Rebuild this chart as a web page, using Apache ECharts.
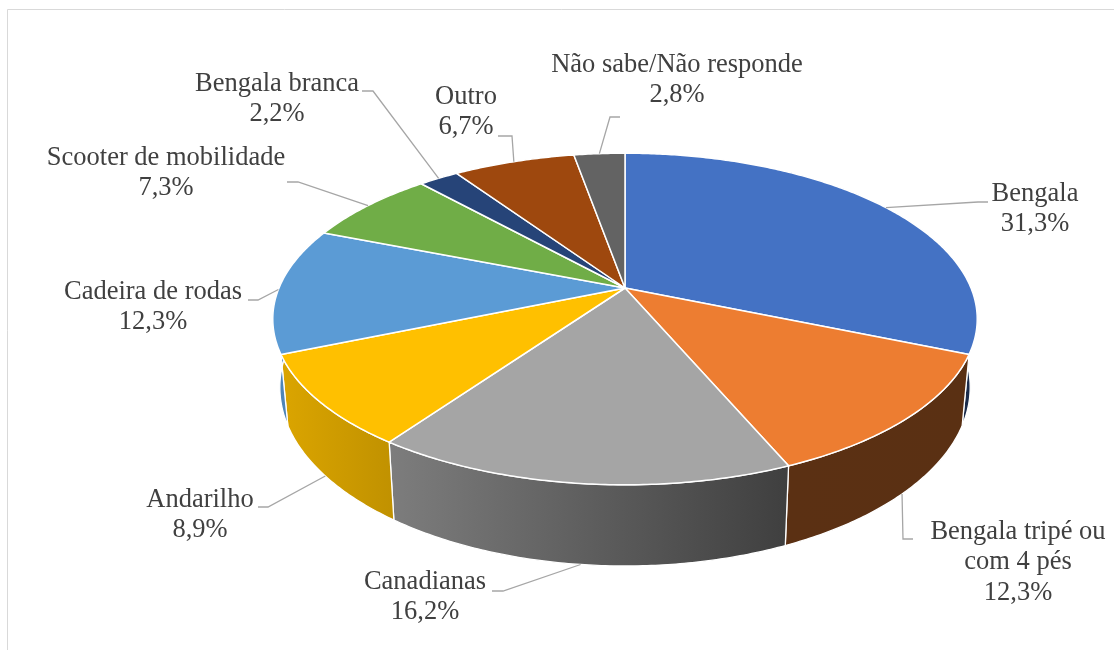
<!DOCTYPE html>
<html>
<head>
<meta charset="utf-8">
<script src="https://cdn.jsdelivr.net/npm/echarts@6/dist/echarts.min.js"></script>
<style>
html, body { margin: 0; padding: 0; background: #fff; }
#chart { width: 1114px; height: 650px; }
</style>
</head>
<body>
<div id="chart"></div>
<script>
// dados do gráfico
var categorias = ['Bengala', 'Bengala tripé ou\ncom 4 pés', 'Canadianas', 'Andarilho', 'Cadeira de rodas',
	'Scooter de mobilidade', 'Bengala branca', 'Outro', 'Não sabe/Não responde'];
var valores = [31.3, 12.3, 16.2, 8.9, 12.3, 7.3, 2.2, 6.7, 2.8];
var cores = ['#4472C4', '#ED7D31', '#A5A5A5', '#FFC000', '#5B9BD5', '#70AD47', '#264478', '#9E480E', '#636363'];

// layout dos rótulos: [x centro texto, y 1a linha, x/y início da linha guia, x/y cotovelo]
var rotulos = [
	[1035, 194, 988, 202, 978, 202],
	[1018, 532, 913, 539, 903, 539],
	[425, 582, 492, 591, 503, 591],
	[200, 500, 258, 507, 268, 507],
	[153, 292, 248, 300, 258, 300],
	[166, 158, 287, 182, 298, 182],
	[277, 84, 362, 91, 373, 91],
	[466, 97, 498, 136, 512, 136],
	[677, 65, 620, 117, 610, 117]
];

// geometria da pizza 3D (perspectiva simples)
var CX = 625, CY = 288, RX = 346, RY = 160, K = 0.187, PROF = 66;
var FONTE = '26.5px "Liberation Serif", "Times New Roman", serif';
var ALTURA_LINHA = 30.5;

var total = valores.reduce(function (a, b) { return a + b; }, 0);
var acumulado = [];
(function () {
	var s = 0;
	for (var i = 0; i < valores.length; i++) { acumulado.push(s); s += valores[i]; }
})();

function proj(t, baixo) {
	var u = Math.sin(t), v = Math.cos(t);
	var den = 1 + K * v;
	var x = CX + RX * u / den;
	var y = CY - RY * v / den;
	if (baixo) {
		x = CX + (x - CX) * 0.98;
		y += PROF / den;
	}
	return [x, y];
}

function angulos(i, valor) {
	var a0 = acumulado[i] / total * Math.PI * 2;
	return [a0, a0 + valor / total * Math.PI * 2];
}

function luz(x) {
	return Math.min(0.88, Math.max(0.38, 0.86 - (x - 280) / 510 * 0.48));
}

function sombra(cor, f) {
	var r = parseInt(cor.substr(1, 2), 16), g = parseInt(cor.substr(3, 2), 16), b = parseInt(cor.substr(5, 2), 16);
	return 'rgb(' + Math.round(r * f) + ',' + Math.round(g * f) + ',' + Math.round(b * f) + ')';
}

function arco(a0, a1, baixo) {
	var pts = [];
	var n = Math.max(2, Math.ceil((a1 - a0) / 0.01));
	for (var k = 0; k <= n; k++) pts.push(proj(a0 + (a1 - a0) * k / n, baixo));
	return pts;
}

// lateral (parede) de cada fatia
function desenhaParede(params, api) {
	var i = params.dataIndex;
	var a = angulos(i, api.value(0));
	var pts = arco(a[0], a[1], false).concat(arco(a[0], a[1], true).reverse());
	var xmin = Infinity, xmax = -Infinity;
	pts.forEach(function (p) { xmin = Math.min(xmin, p[0]); xmax = Math.max(xmax, p[0]); });
	var grad = new echarts.graphic.LinearGradient(xmin, 0, xmax + 1, 0, [
		{ offset: 0, color: sombra(cores[i], luz(xmin)) },
		{ offset: 1, color: sombra(cores[i], luz(xmax)) }
	], true);
	return {
		type: 'polygon',
		shape: { points: pts },
		style: { fill: grad, stroke: '#ffffff', lineWidth: 1.3, lineJoin: 'round' }
	};
}

// face superior de cada fatia
function desenhaTopo(params, api) {
	var i = params.dataIndex;
	var a = angulos(i, api.value(0));
	var pts = [[CX, CY]].concat(arco(a[0], a[1], false));
	return {
		type: 'polygon',
		shape: { points: pts },
		style: { fill: cores[i], stroke: '#ffffff', lineWidth: 1.5, lineJoin: 'round' }
	};
}

// rótulos com linhas guia
function desenhaRotulo(params, api) {
	var i = params.dataIndex;
	var valor = api.value(0);
	var a = angulos(i, valor);
	var m = (a[0] + a[1]) / 2;
	var ancora = proj(m, Math.cos(m) < -0.3);
	var r = rotulos[i];
	var texto = categorias[i] + '\n' + valor.toFixed(1).replace('.', ',') + '%';
	return {
		type: 'group',
		children: [{
			type: 'polyline',
			shape: { points: [[r[2], r[3]], [r[4], r[5]], ancora] },
			style: { stroke: '#a6a6a6', lineWidth: 1.3, fill: null }
		}, {
			type: 'text',
			style: {
				text: texto,
				x: r[0],
				y: r[1] - ALTURA_LINHA / 2,
				fill: '#404040',
				font: FONTE,
				lineHeight: ALTURA_LINHA,
				align: 'center',
				verticalAlign: 'top'
			}
		}]
	};
}

var chart = echarts.init(document.getElementById('chart'));
chart.setOption({
	backgroundColor: '#ffffff',
	animation: false,
	graphic: [{
		type: 'rect',
		z: 0,
		shape: { x: 7.5, y: 9.5, width: 1120, height: 660 },
		style: { fill: 'none', stroke: '#d9d9d9', lineWidth: 1 }
	}],
	series: [{
		type: 'custom',
		coordinateSystem: 'none',
		z: 2,
		renderItem: desenhaParede,
		data: valores
	}, {
		type: 'custom',
		coordinateSystem: 'none',
		z: 3,
		renderItem: desenhaTopo,
		data: valores
	}, {
		type: 'custom',
		coordinateSystem: 'none',
		z: 4,
		renderItem: desenhaRotulo,
		data: valores
	}]
});
</script>
</body>
</html>
